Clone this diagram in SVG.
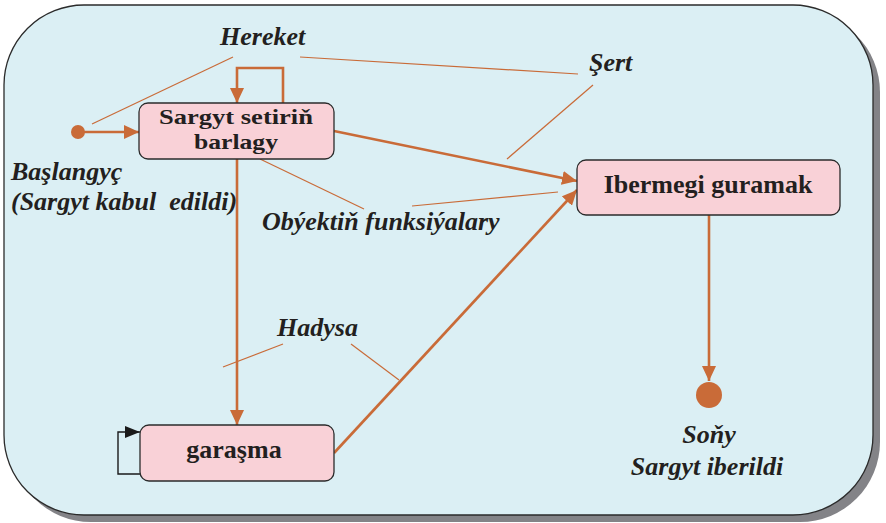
<svg xmlns="http://www.w3.org/2000/svg" width="886" height="523" viewBox="0 0 886 523">
<style>
.lbl{font-family:"Liberation Serif","Times New Roman",serif;font-weight:bold;font-style:italic;font-size:26px;fill:#231f20}
.nt{font-family:"Liberation Serif","Times New Roman",serif;font-weight:bold;font-size:26px;fill:#231f20;text-anchor:middle}
.node{fill:#f9d1d7;stroke:#2b2b2b;stroke-width:1.3}
.main{fill:none;stroke:#c96b38;stroke-width:2.6}
.thin{fill:none;stroke:#c96b38;stroke-width:1.2}
</style>
<defs>
<marker id="ah" markerUnits="userSpaceOnUse" markerWidth="16" markerHeight="14" refX="15" refY="7" orient="auto"><path d="M0,0 L15,7 L0,14 Z" fill="#c96b38"/></marker>
<marker id="ahb" markerUnits="userSpaceOnUse" markerWidth="16" markerHeight="12" refX="15" refY="6" orient="auto"><path d="M0,0 L15,6 L0,12 Z" fill="#1a1a1a"/></marker>
</defs>
<rect x="11" y="12" width="869" height="510" rx="80" fill="#838387"/>
<rect x="4" y="5" width="869" height="510" rx="80" fill="#dbeff4" stroke="#2b2b2b" stroke-width="1.3"/>
<g id="connectors">
<line class="main" x1="78" y1="132" x2="139" y2="132" marker-end="url(#ah)"/>
<polyline class="main" points="283,103 283,68 237,68 237,103" marker-end="url(#ah)"/>
<line class="main" x1="334" y1="131" x2="577" y2="181" marker-end="url(#ah)"/>
<line class="main" x1="237" y1="159" x2="237" y2="425" marker-end="url(#ah)"/>
<line class="main" x1="334" y1="453" x2="577" y2="190" marker-end="url(#ah)"/>
<line class="main" x1="709" y1="215" x2="709" y2="381" marker-end="url(#ah)"/>
<polyline fill="none" stroke="#1a1a1a" stroke-width="1.4" points="140,474 118,474 118,432 140,432" marker-end="url(#ahb)"/>
<line class="thin" x1="233" y1="57" x2="92" y2="124"/>
<line class="thin" x1="300" y1="57" x2="578" y2="74"/>
<line class="thin" x1="593" y1="85" x2="507" y2="159"/>
<line class="thin" x1="260" y1="159" x2="364" y2="209"/>
<line class="thin" x1="412" y1="206" x2="558" y2="192"/>
<line class="thin" x1="283" y1="344" x2="223" y2="367"/>
<line class="thin" x1="351" y1="344" x2="399" y2="380"/>
</g>
<g id="start"><circle cx="78" cy="132" r="7" fill="#c96b38"/></g>
<g id="end"><circle cx="709" cy="395" r="13" fill="#c96b38"/></g>
<g id="node-sargyt">
<rect class="node" x="139" y="103" width="195" height="56" rx="9"/>
<text class="nt" x="236" y="124" style="font-size:22px" textLength="154" lengthAdjust="spacingAndGlyphs">Sargyt setiriň</text>
<text class="nt" x="236" y="149" style="font-size:22px" textLength="84" lengthAdjust="spacingAndGlyphs">barlagy</text>
</g>
<g id="node-ibermegi">
<rect class="node" x="577" y="160" width="263" height="55" rx="9"/>
<text class="nt" x="708" y="193">Ibermegi guramak</text>
</g>
<g id="node-garasma">
<rect class="node" x="140" y="425" width="194" height="56" rx="9"/>
<text class="nt" x="234" y="458">garaşma</text>
</g>
<g id="labels">
<text class="lbl" x="220" y="45">Hereket</text>
<text class="lbl" x="589" y="71">Şert</text>
<text class="lbl" x="11" y="180">Başlangyç</text>
<text class="lbl" x="11" y="210" xml:space="preserve">(Sargyt kabul  edildi)</text>
<text class="lbl" x="262" y="230">Obýektiň funksiýalary</text>
<text class="lbl" x="277" y="336">Hadysa</text>
<text class="lbl" x="709" y="443" text-anchor="middle">Soňy</text>
<text class="lbl" x="707" y="475" text-anchor="middle">Sargyt iberildi</text>
</g>
</svg>
